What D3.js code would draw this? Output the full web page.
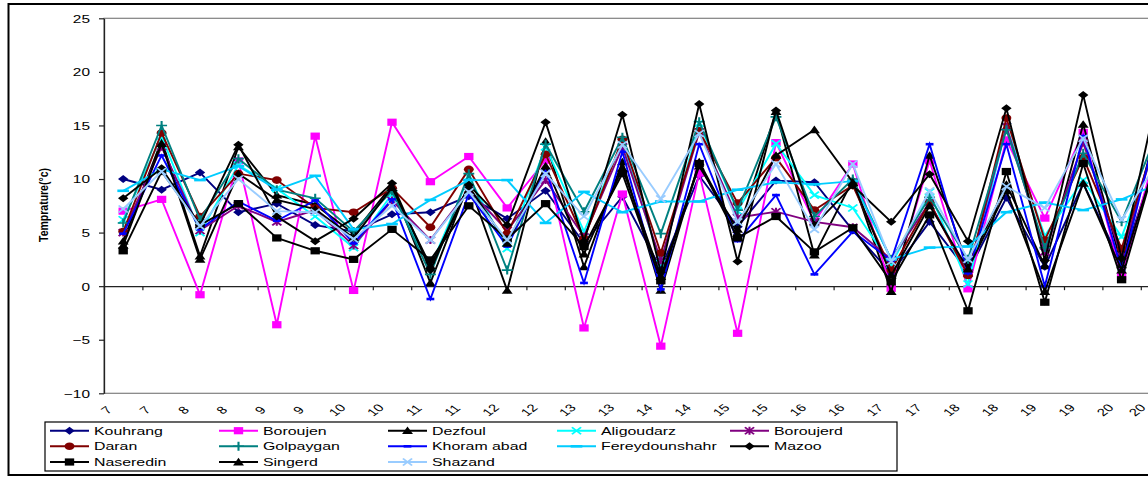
<!DOCTYPE html>
<html>
<head>
<meta charset="utf-8">
<script src="https://cdn.jsdelivr.net/npm/d3@7"></script>
<style>
body{margin:0;background:#fff;}
text{font-family:Arial,"Liberation Sans",sans-serif;fill:#000;}
</style>
</head>
<body>
<svg id="chart"></svg>
<script>
//categories on the x axis (two readings per day)
var categories = ["7","7","8","8","9","9","10","10","11","11","12","12","13","13",
                  "14","14","15","15","16","16","17","17","18","18","19","19","20","20"];
var yTicks = [-10,-5,0,5,10,15,20,25];

//series values
var kouhrang      = [10.0,9.0,10.6,6.9,7.7,5.7,5.1,6.7,6.9,8.4,6.3,8.9,4.0,8.35,1.6,10.3,5.55,9.85,9.7,5.2,1.2,6.0,1.35,8.25,1.8,9.6,2.0,13];
var boroujen      = [7.0,8.1,-0.8,11.7,-3.6,14.0,-0.4,15.3,9.75,12.1,7.3,11.75,-3.9,8.6,-5.6,10.55,-4.4,13.4,6.0,11.4,-0.2,11.7,-0.25,13.65,6.35,14.35,0.9,14];
var dezfoul       = [4.2,13.6,2.8,13.0,8.5,7.6,4.9,9.4,0.3,9.6,-0.4,13.5,1.8,11.6,-0.4,11.6,4.9,16.3,2.9,9.9,-0.5,12.2,1.8,9.5,1.9,15.1,2.0,16];
var aligoudarz    = [6.2,14.0,5.0,11.3,9.1,6.5,3.6,8.6,1.8,10.2,3.5,13.0,5.1,13.5,2.1,15.2,7.0,13.3,8.5,7.3,2.0,8.8,0.2,14.9,4.7,9.9,4.6,14];
var boroujerd     = [5.0,13.0,5.2,7.5,6.0,7.1,3.8,8.0,4.3,9.0,5.2,9.9,4.6,13.0,2.4,14.4,6.4,6.95,6.0,5.5,2.5,7.8,1.2,14.9,3.2,13.4,2.8,15];
var daran         = [5.1,14.3,6.5,10.5,9.9,7.3,6.9,9.15,5.5,10.9,4.9,12.3,4.45,13.7,3.1,14.5,7.75,12.0,7.1,9.4,1.5,7.8,1.0,15.7,4.3,12.0,3.5,15];
var golpaygan     = [5.9,15.0,6.2,11.9,9.0,8.2,5.1,8.9,1.1,10.5,1.5,13.25,6.95,13.9,4.9,15.35,7.1,15.8,6.5,10.0,2.5,8.3,2.5,14.6,3.6,12.4,6.0,15];
var khoramAbad    = [4.9,12.2,5.3,7.9,6.1,8.0,4.0,8.1,-1.2,8.6,3.7,10.9,0.3,12.55,-0.3,13.25,4.2,8.5,1.1,5.1,2.4,13.25,1.2,13.25,0.0,14.0,1.5,16];
var fereydounshahr= [8.9,10.9,9.9,11.2,9.0,10.3,5.3,5.8,8.05,9.9,9.9,5.9,8.8,6.9,7.9,7.9,9.0,9.7,9.5,9.8,2.5,3.6,3.7,6.9,7.8,7.1,8.1,9.6];
var mazoo         = [8.2,11.0,5.7,13.2,6.5,4.2,6.3,9.6,1.5,9.45,5.7,15.3,4.2,16.0,1.3,17.0,2.3,16.4,5.7,9.4,6.0,10.45,4.2,16.6,2.4,17.85,2.6,19];
var naseredin     = [3.3,10.7,5.7,7.7,4.5,3.3,2.5,5.3,2.45,7.5,4.4,7.7,3.7,10.5,0.5,11.45,4.5,6.5,3.2,5.45,0.4,6.65,-2.3,10.7,-1.5,11.45,0.6,13];
var singerd       = [3.8,13.3,2.5,10.5,8.05,7.2,4.5,9.2,1.9,9.3,4.0,11.2,3.0,11.0,0.9,11.2,5.3,12.2,14.6,9.7,1.0,7.5,1.6,8.9,-0.5,9.6,1.5,13];
var shazand       = [7.2,10.7,5.6,10.0,7.0,6.9,4.4,7.5,4.3,8.8,4.3,10.5,6.5,13.2,8.15,14.25,6.0,11.4,5.3,11.4,2.3,8.9,2.5,9.3,7.3,13.8,6.2,12];

//table the drawing code works from (legend order)
var series = [
    {name:"Kouhrang",       values:kouhrang,       color:"#000080", marker:"diamond"},
    {name:"Boroujen",       values:boroujen,       color:"#FF00FF", marker:"square"},
    {name:"Dezfoul",        values:dezfoul,        color:"#000000", marker:"triangle"},
    {name:"Aligoudarz",     values:aligoudarz,     color:"#00FFFF", marker:"x"},
    {name:"Boroujerd",      values:boroujerd,      color:"#800080", marker:"star"},
    {name:"Daran",          values:daran,          color:"#800000", marker:"circle"},
    {name:"Golpaygan",      values:golpaygan,      color:"#008080", marker:"plus"},
    {name:"Khoram abad",    values:khoramAbad,     color:"#0000FF", marker:"dash"},
    {name:"Fereydounshahr", values:fereydounshahr, color:"#00CCFF", marker:"longdash"},
    {name:"Mazoo",          values:mazoo,          color:"#000000", marker:"diamond"},
    {name:"Naseredin",      values:naseredin,      color:"#000000", marker:"square"},
    {name:"Singerd",        values:singerd,        color:"#000000", marker:"triangle"},
    {name:"Shazand",        values:shazand,        color:"#99CCFF", marker:"x"}
];

//the picture is stretched sideways, so text and markers are too
var stretch = 1.4;

var drawMarker = function(g,type,color)
{
    var shapes = {
        diamond:"M0,-4L4,0L0,4L-4,0Z",
        square:"M-3.6,-3.6h7.2v7.2h-7.2Z",
        triangle:"M0,-4.2L4.2,3.4L-4.2,3.4Z",
        x:"M-3.5,-3.5L3.5,3.5M-3.5,3.5L3.5,-3.5",
        star:"M-3.5,-3.5L3.5,3.5M-3.5,3.5L3.5,-3.5M0,-4V4",
        plus:"M-4.2,0H4.2M0,-4.5V4.5",
        dash:"M-3,0H3",
        longdash:"M-4.5,0H4.5"
    };
    if(type=="circle")
    {
        g.append("circle").attr("r",3.8).attr("fill",color);
    }
    else if(type=="diamond"||type=="square"||type=="triangle")
    {
        g.append("path").attr("d",shapes[type]).attr("fill",color);
    }
    else
    {
        g.append("path").attr("d",shapes[type])
            .attr("fill","none")
            .attr("stroke",color)
            .attr("stroke-width",(type=="dash"||type=="longdash")?2.6:1.6);
    }
}

var initGraph = function(target)
{
    var screen = {width:1148, height:477};
    var margins = {top:18.3, left:104};
    var plot = {height:375, band:38.4};

    var svg = d3.select(target)
        .attr("width",screen.width)
        .attr("height",screen.height);

    svg.append("rect")
        .attr("width",screen.width).attr("height",screen.height)
        .attr("fill","#fff");

    //outer chart frame (runs off the right side)
    svg.append("rect")
        .attr("x",8.5).attr("y",4)
        .attr("width",1200).attr("height",471)
        .attr("fill","none").attr("stroke","#000").attr("stroke-width",2);

    var xScale = d3.scaleBand()
        .domain(d3.range(categories.length))
        .range([margins.left,margins.left+plot.band*categories.length]);
    var xEdge = d3.scaleLinear()
        .domain([0,categories.length])
        .range(xScale.range());
    var yScale = d3.scaleLinear()
        .domain([-10,25])
        .range([margins.top+plot.height,margins.top]);
    var cx = function(i){ return xScale(i)+xScale.bandwidth()/2; };

    //plot area border
    svg.append("rect")
        .attr("x",margins.left).attr("y",yScale(25))
        .attr("width",xScale.range()[1]-margins.left)
        .attr("height",yScale(-10)-yScale(25))
        .attr("fill","none").attr("stroke","#808080").attr("stroke-width",1.2);

    //y axis
    var yAxis = d3.axisLeft(yScale)
        .tickValues(yTicks)
        .tickSize(5)
        .tickSizeOuter(0);
    var gy = svg.append("g")
        .attr("transform","translate("+margins.left+",0)")
        .call(yAxis);
    gy.select(".domain").attr("stroke","#222").attr("stroke-width",1.3);
    gy.selectAll(".tick line").attr("stroke","#222").attr("stroke-width",1.2);
    gy.selectAll(".tick text")
        .attr("x",0).attr("dy","0.35em")
        .attr("text-anchor","end")
        .attr("transform","translate(-14,0) scale("+stretch+",1)")
        .style("font-size","11px");

    //category axis crosses at zero, ticks between categories
    var xAxis = d3.axisBottom(xEdge)
        .tickValues(d3.range(categories.length+1))
        .tickFormat("")
        .tickSize(4)
        .tickSizeOuter(0);
    var gx = svg.append("g")
        .attr("transform","translate(0,"+yScale(0)+")")
        .call(xAxis);
    gx.select(".domain").attr("stroke","#222").attr("stroke-width",1.2);
    gx.selectAll(".tick line").attr("stroke","#222").attr("stroke-width",1.2);

    //category labels, low position, turned 45 degrees
    //(the last one is kept just inside the picture)
    svg.append("g").selectAll("text")
        .data(categories)
        .enter()
        .append("text")
        .text(function(d){ return d; })
        .attr("text-anchor","middle")
        .attr("dy","0.35em")
        .attr("transform",function(d,i)
        {
            var lx = Math.min(cx(i)-16.6, screen.width-11);
            return "translate("+lx+",410) scale("+stretch+",1) rotate(-45)";
        })
        .style("font-size","10.5px");

    //y title
    svg.append("text")
        .text("Temprature(°c)")
        .attr("text-anchor","middle")
        .attr("dy","0.35em")
        .attr("transform","translate(43.5,205) scale(1.25,1) rotate(-90)")
        .style("font-size","10.5px")
        .style("font-weight","bold");

    //lines and markers
    var lineGenerator = d3.line()
        .x(function(v,i){ return cx(i); })
        .y(function(v){ return yScale(v); });

    var lines = svg.append("g")
        .selectAll("g")
        .data(series)
        .enter()
        .append("g");

    lines.append("path")
        .attr("d",function(s){ return lineGenerator(s.values); })
        .attr("fill","none")
        .attr("stroke",function(s){ return s.color; })
        .attr("stroke-width",1.9)
        .attr("stroke-linejoin","miter");

    lines.each(function(s)
    {
        var grp = d3.select(this);
        s.values.forEach(function(v,i)
        {
            var m = grp.append("g")
                .attr("transform","translate("+cx(i)+","+yScale(v)+") scale(1.3,1)");
            drawMarker(m,s.marker,s.color);
        });
    });

    //legend
    var legendCols = [50,219,388,557,730];
    var legendRows = [430.7,446.3,462];
    svg.append("rect")
        .attr("x",45).attr("y",422)
        .attr("width",852).attr("height",49)
        .attr("fill","#fff").attr("stroke","#000").attr("stroke-width",1.2);

    var items = svg.append("g")
        .selectAll("g")
        .data(series)
        .enter()
        .append("g")
        .attr("transform",function(s,i)
        {
            return "translate("+legendCols[i%5]+","+legendRows[Math.floor(i/5)]+")";
        });
    items.append("line")
        .attr("x1",0).attr("x2",39)
        .attr("stroke",function(s){ return s.color; })
        .attr("stroke-width",1.9);
    items.each(function(s)
    {
        var m = d3.select(this).append("g")
            .attr("transform","translate(19.5,0) scale(1.3,1)");
        drawMarker(m,s.marker,s.color);
    });
    items.append("text")
        .text(function(s){ return s.name; })
        .attr("dy","0.36em")
        .attr("transform","translate(44,0) scale(1.37,1)")
        .style("font-size","11.6px");
}

initGraph("#chart");
</script>
</body>
</html>
